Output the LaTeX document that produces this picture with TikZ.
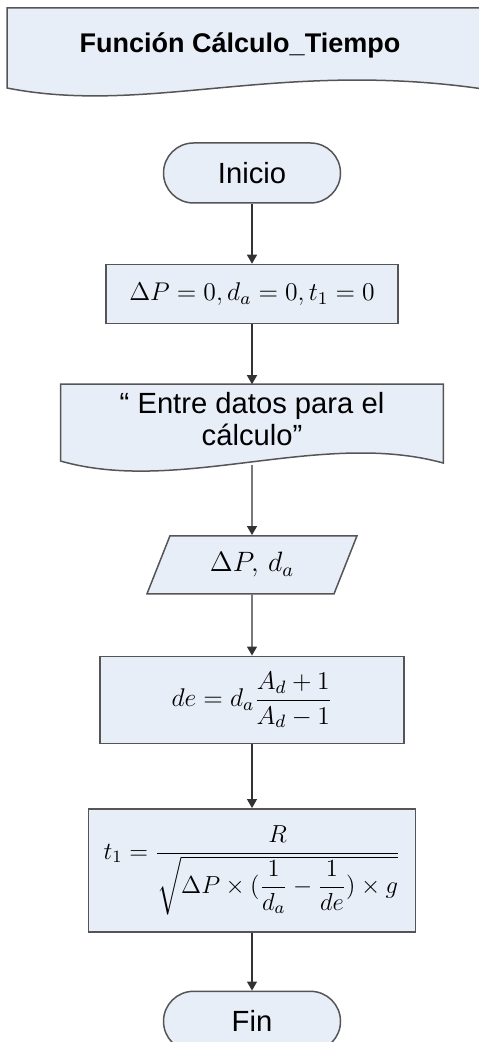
\documentclass[tikz,border=0pt]{standalone}
\usepackage{fix-cm}
\usepackage{amsmath}
\usepackage{fontspec}
\setmainfont{Liberation Sans}
\usetikzlibrary{arrows.meta, positioning, shapes.geometric}

\definecolor{cajaazul}{RGB}{232,238,248}
\definecolor{bordegris}{RGB}{85,85,85}

\pgfdeclarelayer{fondo}
\pgfsetlayers{fondo,main}

\begin{document}
\begin{tikzpicture}[
    x=0.5pt, y=-0.5pt,
    node distance=30pt,
    every node/.style={align=center, font=\fontsize{14.6}{16}\selectfont},
    terminal/.style={draw=bordegris, fill=cajaazul, line width=0.75pt, rounded corners=15pt, minimum width=88.5pt, minimum height=30pt},
    box/.style={draw=bordegris, fill=cajaazul, line width=0.75pt, minimum height=29.5pt, font=\fontsize{12.8}{16}\selectfont},
    datosbox/.style={minimum width=191pt, minimum height=34pt},
    entrada/.style={trapezium, trapezium left angle=59, trapezium right angle=121, trapezium stretches body, draw=bordegris, fill=cajaazul, line width=0.75pt, minimum width=105pt, minimum height=29pt, font=\fontsize{14}{16}\selectfont},
    docline/.style={draw=bordegris, fill=cajaazul, line width=0.75pt},
    arrow/.style={-{Triangle[length=4.5pt, width=5pt]}, line width=0.6pt, black!80}
]
    \useasboundingbox (0,0) rectangle (478,1042);

    % Header
    \path[docline] (7,88) -- (7,8) -- (490,8) -- (490,90)
        .. controls (280,58) and (150,116) .. (7,88) -- cycle;
    \node[font=\fontsize{13.5}{16}\selectfont\bfseries] (titulo) at (240,45) {Función Cálculo\_Tiempo};

    % Nodes
    \node[terminal] (inicio) at (252,173) {Inicio};

    \node[box, minimum width=146pt, below=of inicio] (inicializa) {$\Delta P = 0, d_a = 0, t_1 = 0$};

    \node[datosbox, below=of inicializa] (mensaje) {“ Entre datos para el\\cálculo”};

    \node[entrada, below=41pt of mensaje] (lectura) {$\Delta P,\, d_a$};

    \node[box, minimum width=152pt, minimum height=43.5pt, below=30.5pt of lectura] (densidad) {$de = d_a\dfrac{A_d+1}{A_d-1}$};

    \node[box, minimum width=163.5pt, minimum height=61.5pt, below=32pt of densidad, font=\fontsize{12.3}{16}\selectfont] (tiempo) {$t_1 = \dfrac{R}{\sqrt{\Delta P\times(\dfrac{1}{d_a}-\dfrac{1}{de})\times g}}$};

    \node[terminal, below=29pt of tiempo] (fin) {Fin};

    % Document shape behind the message
    \begin{pgfonlayer}{fondo}
        \path[docline] ([yshift=-4pt]mensaje.south west) -- (mensaje.north west) -- (mensaje.north east) -- ([yshift=-5pt]mensaje.south east)
            .. controls ([xshift=-61.5pt, yshift=12pt]mensaje.south east) and ([xshift=59.5pt, yshift=-21pt]mensaje.south west) .. ([yshift=-4pt]mensaje.south west) -- cycle;
    \end{pgfonlayer}

    % Arrows
    \draw[arrow] (inicio) -- (inicializa);
    \draw[arrow] (inicializa) -- (mensaje);
    \draw[arrow] ([yshift=-6pt]mensaje.south) -- (lectura);
    \draw[arrow] (lectura) -- (densidad);
    \draw[arrow] (densidad) -- (tiempo);
    \draw[arrow] (tiempo) -- (fin);
\end{tikzpicture}
\end{document}
